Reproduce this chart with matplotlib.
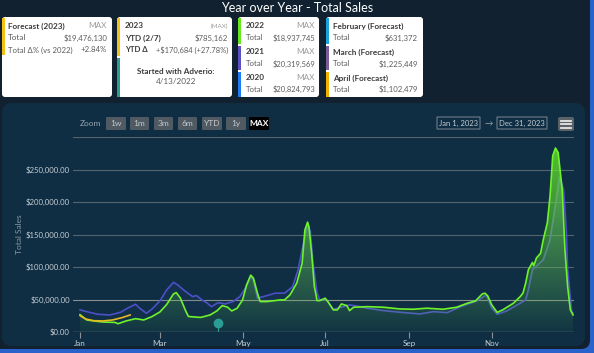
import numpy as np
import matplotlib.pyplot as plt
import matplotlib.colors as mcolors
from matplotlib.patches import FancyBboxPatch, Rectangle
from matplotlib.transforms import Affine2D

plt.rcParams['font.family'] = ['Lato', 'DejaVu Sans']

# ---- data (day of year, sales in $k) ----
days_2022 = [0, 5, 10, 17, 26, 28, 34, 41, 47, 53, 59, 64, 69, 71, 74, 78, 80, 89, 96, 101,
             105, 109, 112, 116, 120, 123, 126, 128, 131, 133, 138, 148, 151, 155, 160, 164, 166, 168, 169, 171,
             173, 175, 177, 181, 183, 187, 190, 193, 197, 199, 202, 212, 224, 236, 246, 256, 268, 278, 286, 292,
             297, 299, 301, 304, 308, 312, 320, 325, 327, 329, 331, 334, 335, 337, 340, 342, 345, 347, 349, 351,
             353, 356, 358, 360, 362, 364]
sales_2022 = [26.7, 18.5, 17.0, 15.4, 14.7, 12.7, 17.0, 20.5, 18.5, 23.6, 30.9, 42.4, 58.6, 60.6, 52.5, 32.4, 23.9, 22.4, 26.2, 32.4,
              40.6, 38.1, 32.4, 36.6, 49.4, 72.5, 87.5, 82.9, 59.7, 46.8, 46.8, 49.4, 49.4, 57.1, 75.2, 106, 157, 169, 162, 121,
              69.9, 48.3, 48.3, 52.0, 46.8, 34.0, 34.0, 43.2, 40.6, 32.9, 38.1, 39.0, 38.1, 35.5, 35.0, 36.6, 35.0, 38.1, 44.3, 47.8,
              58.6, 59.7, 55.6, 41.7, 30.1, 34.0, 44.3, 54.5, 59.7, 75.2, 95.7, 107, 102, 114, 121, 142, 168, 209, 271, 283,
              276, 219, 127, 69.9, 34.0, 26.2]

days_2021 = [0, 5, 13, 22, 30, 35, 41, 44, 49, 53, 59, 64, 69, 72, 78, 83, 86, 90, 94, 97,
             102, 107, 113, 118, 122, 126, 128, 131, 138, 144, 151, 157, 161, 165, 168, 170, 172, 175, 177, 182,
             187, 199, 207, 212, 224, 236, 251, 261, 271, 281, 293, 300, 304, 308, 315, 325, 329, 331, 334, 342,
             347, 352, 354, 357, 359, 360, 363, 364]
sales_2021 = [34.0, 31.3, 27.3, 26.2, 30.4, 36.6, 42.7, 36.6, 28.9, 35.0, 47.8, 64.8, 76.4, 72.5, 62.2, 54.5, 56.0, 49.4, 44.3, 39.0,
              45.2, 43.2, 46.8, 54.5, 67.4, 85.3, 80.2, 52.0, 56.0, 59.7, 59.7, 69.9, 95.7, 137, 165, 155, 106, 59.7, 49.4, 49.4,
              35.0, 41.7, 39.0, 36.6, 32.9, 30.4, 27.8, 31.3, 29.8, 39.0, 47.8, 57.1, 36.6, 27.3, 32.4, 44.3, 49.4, 64.8, 95.7, 111,
              142, 209, 239, 219, 157, 95.7, 31.3, 29.3]

days_2023 = [0, 4, 10, 17, 24, 31, 37]
sales_2023 = [25.2, 20.1, 17.4, 17.0, 18.5, 22.1, 26.2]

flag_day = 102      # Apr 13 - started with Adverio
flag_value = 14.0

month_days = [0, 59, 120, 181, 243, 304]
month_labels = ['Jan', 'Mar', 'May', 'Jul', 'Sep', 'Nov']
y_ticks = [0, 50, 100, 150, 200, 250, 300]

zoom_buttons = ['1w', '1m', '3m', '6m', 'YTD', '1y', 'MAX']

# ---- figure ----
W, H = 594, 353
fig = plt.figure(figsize=(W / 100, H / 100), dpi=100)
fig.patch.set_facecolor('#2a62cc')
pix = Affine2D().scale(1 / W, -1 / H).translate(0, 1) + fig.transFigure


def rbox(x0, y0, x1, y1, fc, r=0, ec='none', lw=0, z=1):
    p = FancyBboxPatch((x0, y0), x1 - x0, y1 - y0, boxstyle=f"round,pad=0,rounding_size={r}",
                       fc=fc, ec=ec, lw=lw, transform=pix, zorder=z)
    fig.patches.append(p)


def txt(x, y, s, size=5.9, color='#555555', ha='left', weight='normal', z=5):
    fig.text(x, y, s, transform=pix, fontsize=size, color=color, ha=ha, va='center',
             fontweight=weight, zorder=z)


# page background + chart panel
rbox(-20, -20, 590, 349, '#112130', r=9, z=-3)
rbox(2, 103, 585, 346, '#0f2e44', r=10, z=-2)

txt(297, 8, 'Year over Year - Total Sales', size=9, color='white', ha='center')

# ---- cards ----
dark, grey, light = '#3a3a3a', '#5c5c5c', '#9a9a9a'
rbox(2, 17, 112, 97, 'white', r=3)
rbox(117, 17, 232, 97, 'white', r=3)
rbox(238, 17, 319, 97, 'white', r=3)
rbox(326, 17, 423, 97, 'white', r=3)

fig.patches.append(Rectangle((2, 18), 3, 37, fc='#f2c21b', transform=pix, zorder=2))
txt(8, 26, 'Forecast (2023)', color=dark, weight='bold')
txt(107, 26, 'MAX', color=light, ha='right')
txt(8, 38, 'Total', color=grey)
txt(107, 38, '$19,476,130', color=grey, ha='right', size=5.6)
txt(8, 50, 'Total Δ% (vs 2022)', color=grey, size=5.6)
txt(107, 50, '+2.84%', color=grey, ha='right', size=5.6)

fig.patches.append(Rectangle((117, 18), 3, 38, fc='#f2c21b', transform=pix, zorder=2))
fig.patches.append(Rectangle((117, 58), 3, 39, fc='#2a9d8f', transform=pix, zorder=2))
txt(125, 26, '2023', color=dark, weight='bold')
txt(228, 26, '(MAX)', color=light, ha='right', size=4.5)
txt(125, 38, 'YTD (2/7)', color=dark, weight='bold')
txt(228, 38, '$785,162', color=grey, ha='right', size=5.6)
txt(125, 50, 'YTD Δ', color=dark, weight='bold', size=5.6)
txt(228, 50, '+$170,684 (+27.78%)', color=grey, ha='right', size=5.4)
txt(176, 71, 'Started with Adverio:', color=dark, weight='bold', ha='center')
txt(176, 82, '4/13/2022', color=grey, ha='center')

years = ['2022', '2021', '2020']
year_totals = ['$18,937,745', '$20,319,569', '$20,824,793']
year_colors = ['#66e61e', '#5a4fc4', '#1c7cf2']
months = ['February (Forecast)', 'March (Forecast)', 'April (Forecast)']
month_totals = ['$631,372', '$1,225,449', '$1,102,479']
month_colors = ['#1aa3d8', '#7a5c96', '#f0b000']
bar_spans = [(18, 44), (46, 70), (72, 97)]
row_y = [(26, 38), (52, 64), (78, 89)]
for i in range(3):
    b0, b1 = bar_spans[i]
    ty, vy = row_y[i]
    fig.patches.append(Rectangle((238, b0), 3, b1 - b0, fc=year_colors[i], transform=pix, zorder=2))
    txt(246, ty, years[i], color=dark, weight='bold')
    txt(315, ty, 'MAX', color=light, ha='right')
    txt(246, vy, 'Total', color=grey, size=5.6)
    txt(315, vy, year_totals[i], color=grey, ha='right', size=5.4)
    fig.patches.append(Rectangle((326, b0), 3, b1 - b0, fc=month_colors[i], transform=pix, zorder=2))
    txt(333, ty, months[i], color=dark, weight='bold')
    txt(333, vy, 'Total', color=grey, size=5.6)
    txt(418, vy, month_totals[i], color=grey, ha='right', size=5.6)

# ---- toolbar ----
txt(80, 123.5, 'Zoom', color='#9aa6ae', size=6)
btn_x = [(106, 126), (130, 149), (154, 173), (178, 197), (202, 222), (226, 246), (249, 269)]
for (b0, b1), lab in zip(btn_x, zoom_buttons):
    sel = lab == 'MAX'
    rbox(b0, 117, b1, 130, 'black' if sel else '#4f5a62', r=1, z=2)
    txt((b0 + b1) / 2, 123.5, lab, color='white' if sel else '#c4c8cb', ha='center',
        size=6, weight='bold' if sel else 'normal')
rbox(437, 117, 480, 129, 'none', ec='#6d7b85', lw=0.8, z=2)
rbox(497, 117, 547, 129, 'none', ec='#6d7b85', lw=0.8, z=2)
txt(458.5, 123, 'Jan 1, 2023', color='#c4ccd2', ha='center', size=5.5)
txt(522, 123, 'Dec 31, 2023', color='#c4ccd2', ha='center', size=5.5)
txt(488.5, 123.5, '→', color='#9aa6ae', ha='center', size=6)
rbox(558, 117, 574, 131, '#5b6368', r=2, z=2)
for yy in (120.5, 124, 127.5):
    fig.lines.append(plt.Line2D([561, 571], [yy, yy], color='#e6e6e6', lw=1.3,
                                transform=pix, zorder=3))

# ---- chart ----
ax = fig.add_axes([73 / W, 21 / H, (574 - 73) / W, (332 - 137) / H])
ax.set_zorder(1)
ax.set_facecolor('none')
x_lo, x_hi = -5.2, 364.7
y_hi = 300000


def grad_fill(x, y, rgb, a_bot, a_top, z):
    poly, = ax.fill(np.r_[x[0], x, x[-1]], np.r_[0, y, 0], fc='none', ec='none')
    g = np.zeros((200, 1, 4))
    g[:, :, :3] = mcolors.to_rgb(rgb)
    g[:, 0, 3] = np.linspace(a_bot, a_top, 200)
    im = ax.imshow(g, aspect='auto', extent=[x_lo, x_hi, 0, y_hi], origin='lower', zorder=z)
    im.set_clip_path(poly)


s21 = np.array(sales_2021) * 1000
s22 = np.array(sales_2022) * 1000
s23 = np.array(sales_2023) * 1000

grad_fill(days_2021, s21, '#4b50c6', 0.0, 0.45, 1)
ax.plot(days_2021, s21, color='#4b50c6', lw=1.2, zorder=2, solid_joinstyle='round')
grad_fill(days_2022, s22, '#6cf02a', 0.04, 0.8, 3)
ax.plot(days_2022, s22, color='#6ef22c', lw=1.2, zorder=4, solid_joinstyle='round')
ax.plot(days_2023, s23, color='#e8b820', lw=1.2, zorder=5, solid_joinstyle='round')

ax.plot([flag_day, flag_day], [0, flag_value * 1000], color='#2a9d96', lw=0.8, zorder=5)
ax.plot(flag_day, flag_value * 1000, 'o', ms=6, color='#2a9d96', zorder=6)

ax.set_xlim(x_lo, x_hi)
ax.set_ylim(0, y_hi)
for v in y_ticks:
    ax.axhline(v * 1000, color='#8a8f8c' if v == 50 else '#55636d', lw=0.8, zorder=0.5)
ax.axhline(0, color='#8a9196', lw=0.9, zorder=6)

ax.set_yticks([v * 1000 for v in y_ticks])
ax.set_yticklabels([f'${v * 1000:,.2f}' if v < 300 else '' for v in y_ticks])
ax.set_xticks(month_days)
ax.set_xticklabels(month_labels)
ax.tick_params(axis='y', length=0, pad=2.2, labelsize=5.6, labelcolor='#c6ced3')
ax.tick_params(axis='x', length=4, color='#8a9196', width=0.8, pad=2, labelsize=5.8,
               labelcolor='#c6ced3')
for s in ax.spines.values():
    s.set_visible(False)
ax.set_ylabel('Total Sales', fontsize=6, color='#8a98a1')
ax.yaxis.set_label_coords(-50 / 501, 0.5)

fig.savefig('out.png', dpi=100, facecolor=fig.get_facecolor())
